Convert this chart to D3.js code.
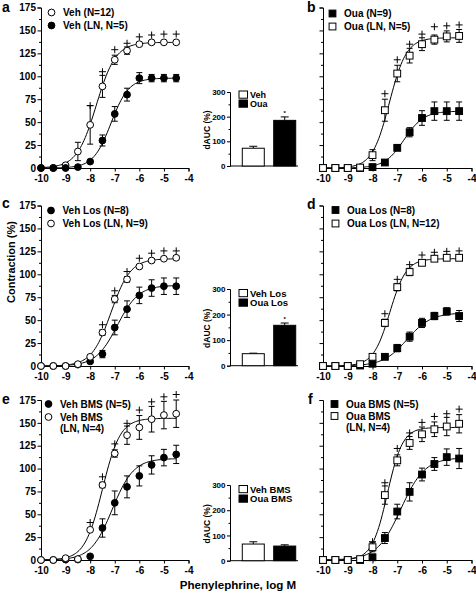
<!DOCTYPE html>
<html><head><meta charset="utf-8">
<script src="https://cdn.jsdelivr.net/npm/d3@7"></script>
<style>
html,body{margin:0;padding:0;background:#fff;}
svg{display:block;font-family:"Liberation Sans",Arial,Helvetica,sans-serif;font-weight:bold;}
</style></head>
<body><svg id="c" width="476" height="595"></svg>
<script>
// ---------- DATA ----------
const logDose = [-10, -9.5, -9, -8.5, -8, -7.5, -7, -6.5, -6, -5.5, -5, -4.5];
const yTicks = [0, 25, 50, 75, 100, 125, 150, 175];
const xTicks = [-10, -9, -8, -7, -6, -5, -4];

// panel a
const aVehMean   = [0, 0, 3, 18, 47, 89, 118, 128, 135, 137, 137, 137];
const aVehSem    = [0, 0, 1, 10, 21, 12, 5, 4, 2, 2, 2, 2];
const aVehLNMean = [0, 0, 0, 1, 7, 30, 59, 80, 98, 98, 98, 98];
const aVehLNSem  = [0, 0, 0, 0, 0, 6, 8, 7, 6, 4, 4, 4];
const aPlus      = [null, null, null, null, 68, 105, 129, 136, 143, 145, 146, 146];
const aVehFit    = [137, -7.75, 1.1];   // top, logEC50, hill
const aVehLNFit  = [98, -7.15, 1.2];

// panel b
const bOuaMean   = [0, 0, 0, 0, 1, 6, 22, 39, 54.5, 62, 62, 62];
const bOuaSem    = [0, 0, 0, 0, 0, 1, 3, 5, 8, 10, 10, 10];
const bOuaLNMean = [0, 0, 0, 0.5, 14, 63, 103, 122.5, 135, 140, 143.5, 144];
const bOuaLNSem  = [0, 0, 0, 0, 6, 12, 9, 8, 7, 5, 6, 7];
const bPlus      = [null, null, null, null, null, 81, 118, 135, 146, 154, 155, 156];
const bOuaFit    = [62, -6.72, 1.1];
const bOuaLNFit  = [142, -7.32, 1.25];

// panel c
const cVehLosMean   = [0, 0, 0, 1.5, 5, 13, 42, 62, 77, 85, 87, 87];
const cVehLosSem    = [0, 0, 0, 0, 0, 4, 8, 9, 9, 9, 9, 9];
const cVehLosLNMean = [0, 0, 0, 2, 10, 36.5, 73, 94.5, 108.5, 115, 117, 118];
const cVehLosLNSem  = [0, 0, 0, 0, 0, 3, 4, 3, 2, 2, 2, 2];
const cPlus         = [null, null, null, null, null, 45, 82, 103, 117.5, 123, 125.5, 125.5];
const cVehLosFit    = [88, -6.9, 1.0];
const cVehLosLNFit  = [117, -7.15, 1.1];

// panel d
const dOuaLosMean   = [0, 0, 0, 0.5, 2.5, 10, 19.5, 32, 47, 54.5, 59.5, 54.5];
const dOuaLosSem    = [0, 0, 0, 0, 0, 2, 4, 5, 5, 4, 4, 6];
const dOuaLosLNMean = [0, 0, 0, 2, 10, 47, 86, 102.5, 112.5, 117, 118, 118];
const dOuaLosLNSem  = [0, 0, 0, 0, 0, 4, 4, 4, 3, 3, 3, 3];
const dPlus         = [null, null, null, null, null, 57, 94.5, 110.5, 121, 124, 125, 125.5];
const dOuaLosFit    = [58, -6.6, 0.9];
const dOuaLosLNFit  = [117, -7.3, 1.3];

// panel e
const eVehBMSMean   = [0, 0, 0.5, 0.5, 4, 35, 62.5, 80, 92, 104, 112, 115.5];
const eVehBMSSem    = [0, 0, 0, 0, 0, 10, 13, 12, 11, 10, 9, 10];
const eVehBMSLNMean = [0, 0, 2, 1, 33, 82, 116.5, 136.5, 145, 154, 158.5, 160];
const eVehBMSLNSem  = [0, 0, 0, 0, 0, 3, 4, 10, 13, 14, 15, 15];
const ePlus         = [null, null, null, null, 41, 91, 127, 149.5, 164, 173, 178.5, 181];
const eVehBMSFit    = [111, -7.1, 1.0];
const eVehBMSLNFit  = [155, -7.5, 1.2];

// panel f
const fOuaBMSMean   = [0, 0, 0, 0, 3, 24, 53, 74.5, 93.5, 105, 112.5, 111];
const fOuaBMSSem    = [0, 0, 0, 0, 0, 6, 8, 10, 7, 7, 9, 11];
const fOuaBMSLNMean = [0, 0, 0, 1, 14, 71, 109, 128, 137.5, 143, 146, 149];
const fOuaBMSLNSem  = [0, 0, 0, 0, 5, 10, 6, 7, 8, 8, 10, 10];
const fPlus         = [null, null, null, null, 20, 84.5, 122, 139, 150.5, 157, 160, 165];
const fOuaBMSFit    = [112, -6.85, 0.9];
const fOuaBMSLNFit  = [145, -7.4, 1.4];

// bar insets (dAUC %)
const barLabels = [["Veh", "Oua"], ["Veh Los", "Oua Los"], ["Veh BMS", "Oua BMS"]];
const barMeans  = [[72, 185], [47, 158], [66, 58]];
const barSems   = [[8, 14], [2, 9], [9, 5]];
const barStars  = [[false, true], [false, true], [false, false]];
const barTicks  = [0, 100, 200, 300];

// ---------- DRAW ----------
const svg = d3.select("#c");
const FONT = '"Liberation Sans",Arial,Helvetica,sans-serif';

function hill(p, x) { return p[0] / (1 + Math.pow(10, (p[1] - x) * p[2])); }

function drawPanel(o) {
  const x = d3.scaleLinear().domain([-10, -4]).range([o.x0, o.x1]);
  const y = d3.scaleLinear().domain([0, 175]).range([o.y0, o.y1]);
  const g = svg.append("g");

  g.append("g").attr("transform", `translate(${o.x0},0)`)
    .call(d3.axisLeft(y).tickValues(d3.range(12.5, 175, 25)).tickSize(2).tickFormat(""))
    .call(s => s.select(".domain").remove());
  const ya = g.append("g").attr("transform", `translate(${o.x0},0)`)
    .call(d3.axisLeft(y).tickValues(yTicks).tickSize(3.5).tickPadding(1.5)
      .tickFormat(o.yLabels ? d3.format("d") : ""));
  const xa = g.append("g").attr("transform", `translate(0,${o.y0})`)
    .call(d3.axisBottom(x).tickValues(xTicks).tickSize(3.5).tickPadding(3.5).tickFormat(d3.format("d")));
  [ya, xa].forEach(a => {
    a.selectAll("text").attr("font-size", 10).attr("font-family", FONT).attr("font-weight", "bold").attr("fill", "#000");
    a.selectAll("line,path").attr("stroke", "#000").attr("stroke-width", 1);
  });
  xa.selectAll("text").text(d => String(d));
  ya.selectAll("text").text(d => o.yLabels ? String(d) : "");

  g.append("text").attr("x", o.letterX).attr("y", o.letterY).text(o.letter)
    .attr("font-size", 14).attr("font-weight", "bold");

  const fitX = d3.range(-10, -4.5 + 1e-9, 0.05);
  const line = d3.line().x(d => x(d[0])).y(d => y(d[1]));
  o.series.forEach(s => {
    g.append("path").datum(fitX.map(v => [v, hill(s.fit, v)]))
      .attr("d", line).attr("fill", "none").attr("stroke", "#000").attr("stroke-width", 1);
  });

  const pg = g.append("g").attr("stroke", "#000").attr("stroke-width", 1);
  o.plus.forEach((p, i) => {
    if (p == null) return;
    const cx = x(logDose[i]), cy = y(p);
    pg.append("line").attr("x1", cx - 3.5).attr("x2", cx + 3.5).attr("y1", cy).attr("y2", cy);
    pg.append("line").attr("x1", cx).attr("x2", cx).attr("y1", cy - 3.5).attr("y2", cy + 3.5);
  });

  o.series.forEach(s => {
    const eg = g.append("g").attr("stroke", "#000").attr("stroke-width", 1);
    s.mean.forEach((m, i) => {
      const e = s.sem[i];
      if (!e) return;
      const cx = x(logDose[i]);
      eg.append("line").attr("x1", cx).attr("x2", cx).attr("y1", y(m - e)).attr("y2", y(m + e));
      eg.append("line").attr("x1", cx - 3).attr("x2", cx + 3).attr("y1", y(m + e)).attr("y2", y(m + e));
      eg.append("line").attr("x1", cx - 3).attr("x2", cx + 3).attr("y1", y(m - e)).attr("y2", y(m - e));
    });
  });
  o.series.forEach(s => {
    const mg = g.append("g");
    s.mean.forEach((m, i) => drawMarker(mg, s.shape, s.filled, x(logDose[i]), y(m)));
  });

  o.legend.forEach(l => {
    const s = o.series[l.s];
    drawMarker(g, s.shape, s.filled, o.legX, l.y);
    l.lines.forEach((t, j) => {
      g.append("text").attr("x", o.legX + 11.5).attr("y", l.y + 3.6 + j * 11).text(t)
        .attr("font-size", 10).attr("font-weight", "bold");
    });
  });
}

function drawMarker(g, shape, filled, cx, cy) {
  if (shape === "circle") {
    g.append("circle").attr("cx", cx).attr("cy", cy).attr("r", 3.4)
      .attr("fill", filled ? "#000" : "#fff").attr("stroke", "#000").attr("stroke-width", 1);
  } else {
    g.append("rect").attr("x", cx - 3.4).attr("y", cy - 3.4).attr("width", 6.8).attr("height", 6.8)
      .attr("fill", filled ? "#000" : "#fff").attr("stroke", "#000").attr("stroke-width", 1);
  }
}

const L = {x0: 41, x1: 188.5}, R = {x0: 323, x1: 471.5};
const rows = [{y0: 168, y1: 7.5}, {y0: 366, y1: 205.5}, {y0: 560, y1: 400}];

drawPanel({...L, ...rows[0], yLabels: true, letter: "a", letterX: 2, letterY: 12,
  series: [
    {mean: aVehMean, sem: aVehSem, fit: aVehFit, shape: "circle", filled: false},
    {mean: aVehLNMean, sem: aVehLNSem, fit: aVehLNFit, shape: "circle", filled: true}],
  plus: aPlus, legX: 51.5,
  legend: [{s: 0, y: 12.5, lines: ["Veh (N=12)"]}, {s: 1, y: 25.5, lines: ["Veh (LN, N=5)"]}]});

drawPanel({...R, ...rows[0], yLabels: false, letter: "b", letterX: 307, letterY: 12,
  series: [
    {mean: bOuaMean, sem: bOuaSem, fit: bOuaFit, shape: "square", filled: true},
    {mean: bOuaLNMean, sem: bOuaLNSem, fit: bOuaLNFit, shape: "square", filled: false}],
  plus: bPlus, legX: 332.5,
  legend: [{s: 0, y: 13.5, lines: ["Oua (N=9)"]}, {s: 1, y: 26.5, lines: ["Oua (LN, N=5)"]}]});

drawPanel({...L, ...rows[1], yLabels: true, letter: "c", letterX: 2, letterY: 208,
  series: [
    {mean: cVehLosMean, sem: cVehLosSem, fit: cVehLosFit, shape: "circle", filled: true},
    {mean: cVehLosLNMean, sem: cVehLosLNSem, fit: cVehLosLNFit, shape: "circle", filled: false}],
  plus: cPlus, legX: 51,
  legend: [{s: 0, y: 210.5, lines: ["Veh Los (N=8)"]}, {s: 1, y: 223.5, lines: ["Veh Los (LN, N=9)"]}]});

drawPanel({...R, ...rows[1], yLabels: false, letter: "d", letterX: 307, letterY: 209,
  series: [
    {mean: dOuaLosMean, sem: dOuaLosSem, fit: dOuaLosFit, shape: "square", filled: true},
    {mean: dOuaLosLNMean, sem: dOuaLosLNSem, fit: dOuaLosLNFit, shape: "square", filled: false}],
  plus: dPlus, legX: 335.5,
  legend: [{s: 0, y: 210, lines: ["Oua Los (N=8)"]}, {s: 1, y: 223.5, lines: ["Oua Los (LN, N=12)"]}]});

drawPanel({...L, ...rows[2], yLabels: true, letter: "e", letterX: 2, letterY: 404,
  series: [
    {mean: eVehBMSMean, sem: eVehBMSSem, fit: eVehBMSFit, shape: "circle", filled: true},
    {mean: eVehBMSLNMean, sem: eVehBMSLNSem, fit: eVehBMSLNFit, shape: "circle", filled: false}],
  plus: ePlus, legX: 48.5,
  legend: [{s: 0, y: 404, lines: ["Veh BMS (N=5)"]}, {s: 1, y: 417, lines: ["Veh BMS", "(LN, N=4)"]}]});

drawPanel({...R, ...rows[2], yLabels: false, letter: "f", letterX: 308, letterY: 404,
  series: [
    {mean: fOuaBMSMean, sem: fOuaBMSSem, fit: fOuaBMSFit, shape: "square", filled: true},
    {mean: fOuaBMSLNMean, sem: fOuaBMSLNSem, fit: fOuaBMSLNFit, shape: "square", filled: false}],
  plus: fPlus, legX: 334.5,
  legend: [{s: 0, y: 404, lines: ["Oua BMS (N=5)"]}, {s: 1, y: 416, lines: ["Oua BMS", "(LN, N=4)"]}]});

// ---------- bar insets ----------
const barRows = [
  {y0: 166, y1: 92, legY: 88, fs: 9, gap: 9},
  {y0: 365.7, y1: 289, legY: 286.5, fs: 9.5, gap: 9.5},
  {y0: 560.7, y1: 485, legY: 482.5, fs: 9.5, gap: 9.5}];
barRows.forEach((r, k) => {
  const g = svg.append("g");
  const y = d3.scaleLinear().domain([0, 300]).range([r.y0, r.y1]);
  const xb = d3.scaleBand().domain(barLabels[k]).range([236, 302]).paddingInner(0.3).paddingOuter(0.2);
  g.append("g").attr("transform", "translate(230,0)")
    .call(d3.axisLeft(y).tickValues([50, 150, 250]).tickSize(1.5).tickFormat(""))
    .call(s => s.select(".domain").remove());
  const ya = g.append("g").attr("transform", "translate(230,0)")
    .call(d3.axisLeft(y).tickValues(barTicks).tickSize(3).tickPadding(1.5));
  ya.selectAll("text").attr("font-size", 8).attr("font-weight", "bold").attr("fill", "#000");
  ya.selectAll("line,path").attr("stroke", "#000");
  g.append("line").attr("x1", 230).attr("x2", 298).attr("y1", r.y0).attr("y2", r.y0).attr("stroke", "#000");
  g.append("text").attr("transform", `translate(210,${(r.y0 + r.y1) / 2 + 1}) rotate(-90)`)
    .attr("text-anchor", "middle").attr("font-size", 8.5).text("dAUC (%)");
  barLabels[k].forEach((lab, i) => {
    const m = barMeans[k][i], e = barSems[k][i];
    const bx = xb(lab), bw = xb.bandwidth(), cx = bx + bw / 2;
    g.append("line").attr("x1", cx).attr("x2", cx).attr("y1", y(m)).attr("y2", y(m + e)).attr("stroke", "#000");
    g.append("line").attr("x1", cx - 4).attr("x2", cx + 4).attr("y1", y(m + e)).attr("y2", y(m + e)).attr("stroke", "#000");
    g.append("rect").attr("x", bx).attr("y", y(m)).attr("width", bw).attr("height", r.y0 - y(m))
      .attr("fill", i === 0 ? "#fff" : "#000").attr("stroke", "#000");
    if (barStars[k][i]) {
      g.append("text").attr("x", cx).attr("y", y(m + e) - 2).attr("text-anchor", "middle")
        .attr("font-size", 6).text("*");
    }
    const ly = r.legY + 3 + i * r.gap;
    g.append("rect").attr("x", 239).attr("y", ly).attr("width", 8.5).attr("height", 7.2)
      .attr("fill", i === 0 ? "#fff" : "#000").attr("stroke", "#000");
    g.append("text").attr("x", 250).attr("y", ly + 7).attr("font-size", r.fs).text(lab);
  });
});

svg.append("text").attr("transform", "translate(14.5,262) rotate(-90)").attr("text-anchor", "middle")
  .attr("font-size", 11).text("Contraction (%)");
svg.append("text").attr("x", 238).attr("y", 589).attr("text-anchor", "middle")
  .attr("font-size", 11.6).text("Phenylephrine, log M");
</script></body></html>
